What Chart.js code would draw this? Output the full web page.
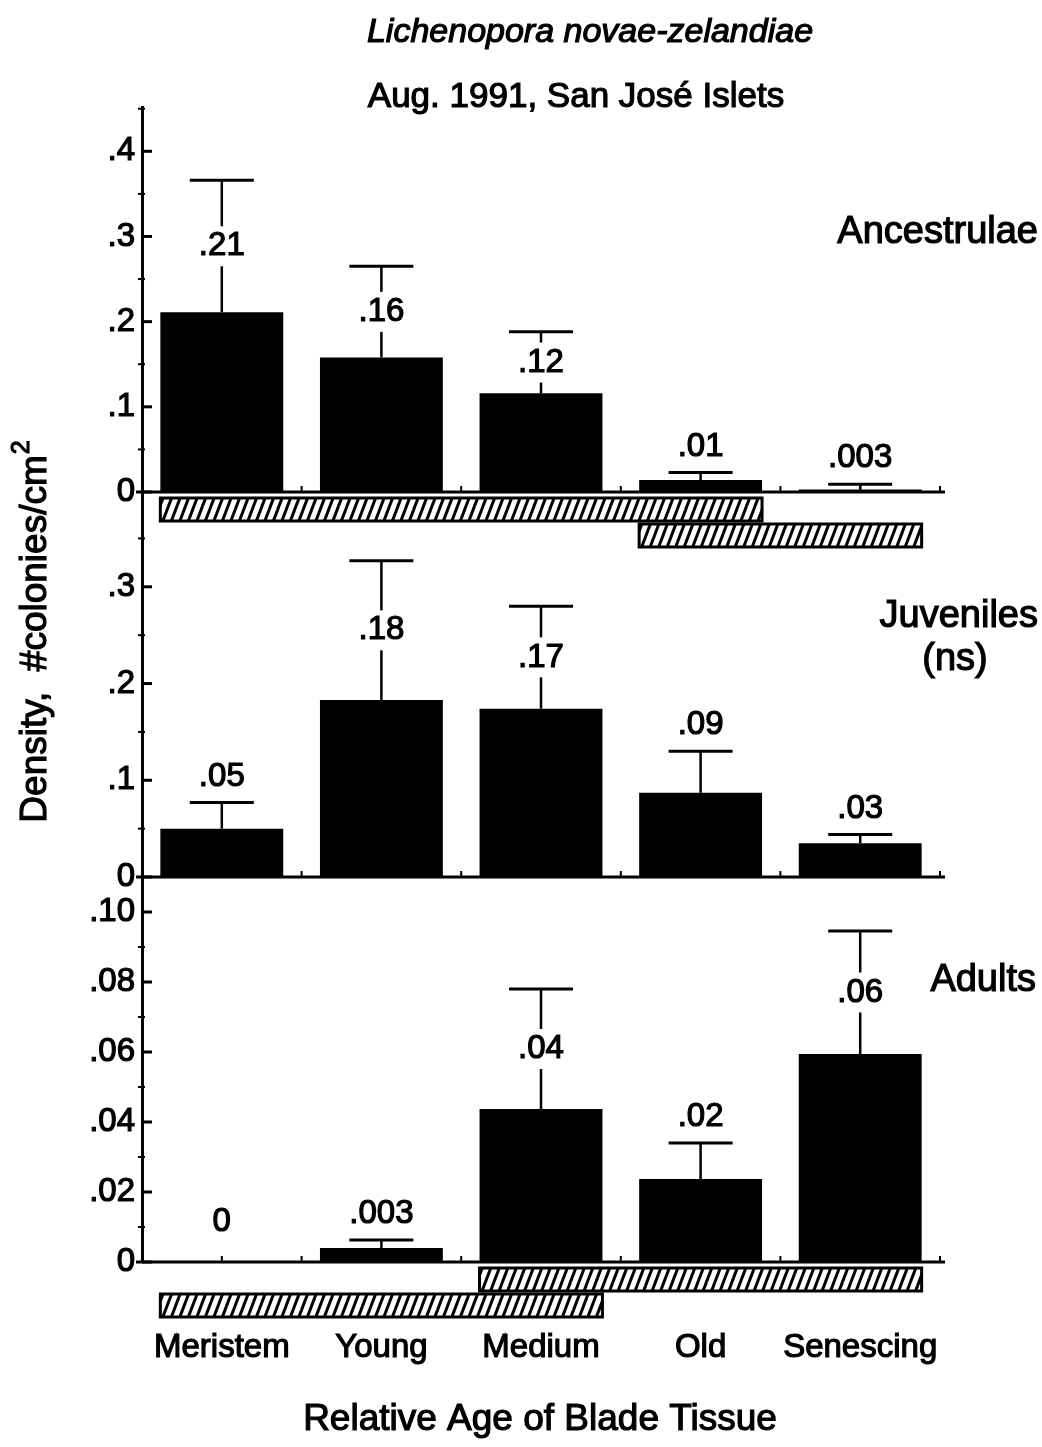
<!DOCTYPE html>
<html>
<head>
<meta charset="utf-8">
<script src="https://cdn.jsdelivr.net/npm/chart.js@4.4.0/dist/chart.umd.min.js"></script>
<style>
  body { margin: 0; background: #fff; }
  #wrap { width: 1042px; height: 1447px; position: relative; }
</style>
</head>
<body>
<div id="wrap"><canvas id="canvas"></canvas></div>
<script>
// categories
var tissue = ['Meristem', 'Young', 'Medium', 'Old', 'Senescing'];

// Ancestrulae: means, tops of the error bars, printed values
var ancMean = [0.211, 0.158, 0.116, 0.014, 0.003];
var ancTop  = [0.366, 0.265, 0.188, 0.023, 0.009];
var ancText = ['.21', '.16', '.12', '.01', '.003'];

// Juveniles
var juvMean = [0.050, 0.183, 0.174, 0.087, 0.035];
var juvTop  = [0.077, 0.327, 0.280, 0.130, 0.044];
var juvText = ['.05', '.18', '.17', '.09', '.03'];

// Adults
var adMean = [0, 0.0040, 0.0437, 0.0237, 0.0594];
var adTop  = [0, 0.0063, 0.0780, 0.0340, 0.0946];
var adText = ['0', '.003', '.04', '.02', '.06'];

// tick labels
var ancTicks = [0, 0.1, 0.2, 0.3, 0.4];
var ancTickText = ['0', '.1', '.2', '.3', '.4'];
var juvTicks = [0, 0.1, 0.2, 0.3];
var juvTickText = ['0', '.1', '.2', '.3'];
var adTicks = [0, 0.02, 0.04, 0.06, 0.08, 0.10];
var adTickText = ['0', '.02', '.04', '.06', '.08', '.10'];

// homogeneous groups (first, last category) drawn as hatched bars
var ancGroups = [[0, 3], [3, 4]];
var adGroups = [[2, 4], [0, 2]];

var FONT = '"Liberation Sans", Arial, Helvetica, sans-serif';

var panels = [
  { id: 'y1', mean: ancMean, top: ancTop, text: ancText, ticks: ancTicks, tickText: ancTickText, minor: 0.05, groups: ancGroups },
  { id: 'y2', mean: juvMean, top: juvTop, text: juvText, ticks: juvTicks, tickText: juvTickText, minor: 0.05, groups: [] },
  { id: 'y3', mean: adMean, top: adTop, text: adText, ticks: adTicks, tickText: adTickText, minor: 0.01, groups: adGroups }
];

function yScale(p, max) {
  return {
    type: 'linear',
    position: 'left',
    stack: 'panels',
    stackWeight: 1,
    min: 0,
    max: max,
    grid: { display: false, drawTicks: false },
    border: { display: true, color: '#000', width: 3 },
    afterBuildTicks: function(s) {
      s.ticks = p.ticks.map(function(v) { return { value: v }; });
    },
    afterFit: function(s) { s.width = 142; },
    ticks: {
      padding: 7,
      color: '#000',
      textStrokeColor: '#000',
      textStrokeWidth: 1.2,
      font: { family: FONT, size: 33 },
      callback: function(v, i) { return p.tickText[i]; }
    }
  };
}

function hatchBar(ctx, x0, x1, y0, y1) {
  ctx.save();
  ctx.fillStyle = '#fff';
  ctx.fillRect(x0, y0, x1 - x0, y1 - y0);
  ctx.beginPath();
  ctx.rect(x0, y0, x1 - x0, y1 - y0);
  ctx.clip();
  ctx.strokeStyle = '#000';
  ctx.lineWidth = 3;
  var h = y1 - y0;
  for (var x = x0 - h; x < x1 + h; x += 8.5) {
    ctx.beginPath();
    ctx.moveTo(x, y1);
    ctx.lineTo(x + h * 0.38, y0);
    ctx.stroke();
  }
  ctx.restore();
  ctx.strokeStyle = '#000';
  ctx.lineWidth = 3;
  ctx.strokeRect(x0, y0, x1 - x0, y1 - y0);
}

// text with a thin outline so it reads as heavy as the scanned original
function txt(ctx, s, x, y) {
  ctx.lineWidth = 1.2;
  ctx.strokeText(s, x, y);
  ctx.fillText(s, x, y);
}

var extras = {
  id: 'extras',
  afterDatasetsDraw: function(chart) {
    var ctx = chart.ctx;
    var area = chart.chartArea;
    var xs = chart.scales.x;
    ctx.save();
    ctx.strokeStyle = '#000';
    ctx.fillStyle = '#000';

    panels.forEach(function(p, pi) {
      var ys = chart.scales[p.id];
      var zero = ys.getPixelForValue(0);

      // zero line
      ctx.lineWidth = 3;
      ctx.beginPath();
      ctx.moveTo(area.left - 6, zero);
      ctx.lineTo(area.right + 5, zero);
      ctx.stroke();

      // small ticks on the zero line
      ctx.lineWidth = 2;
      for (var k = 0; k <= tissue.length * 2; k++) {
        var tx = xs.getPixelForValue(k / 2 - 0.5);
        ctx.beginPath();
        ctx.moveTo(tx, zero);
        ctx.lineTo(tx, zero - 6);
        ctx.stroke();
      }

      // y ticks: major inward, minor small
      var ax = area.left;
      ctx.lineWidth = 3;
      p.ticks.forEach(function(v) {
        var ty = ys.getPixelForValue(v);
        ctx.beginPath();
        ctx.moveTo(ax, ty);
        ctx.lineTo(ax + 10, ty);
        ctx.stroke();
      });
      ctx.lineWidth = 2;
      for (var m = p.minor; m < ys.max; m += p.minor * 2) {
        var my = ys.getPixelForValue(m);
        ctx.beginPath();
        ctx.moveTo(ax - 4, my);
        ctx.lineTo(ax + 3, my);
        ctx.stroke();
      }

      // error bars and value labels
      var meta = chart.getDatasetMeta(pi);
      ctx.font = '33px ' + FONT;
      ctx.textAlign = 'center';
      ctx.textBaseline = 'middle';
      meta.data.forEach(function(bar, i) {
        var x = bar.x;
        var yBar = ys.getPixelForValue(p.mean[i]);
        var yTop = ys.getPixelForValue(p.top[i]);
        var hasErr = p.top[i] > p.mean[i];
        if (hasErr) {
          ctx.lineWidth = 2.5;
          ctx.beginPath();
          ctx.moveTo(x, yBar);
          ctx.lineTo(x, yTop);
          ctx.stroke();
          ctx.lineWidth = 3;
          ctx.beginPath();
          ctx.moveTo(x - 32, yTop);
          ctx.lineTo(x + 32, yTop);
          ctx.stroke();
        }
        var ly;
        if (!hasErr) {
          ly = yBar - 40;
        } else if (yBar - yTop > 50) {
          ly = (yBar + yTop) / 2;
          var w = ctx.measureText(p.text[i]).width;
          ctx.fillStyle = '#fff';
          ctx.fillRect(x - w / 2 - 3, ly - 20, w + 6, 40);
          ctx.fillStyle = '#000';
        } else {
          ly = yTop - 26;
        }
        txt(ctx, p.text[i], x, ly);
      });

      // hatched group bars below the zero line
      var half = meta.data[0].width / 2;
      p.groups.forEach(function(g, gi) {
        var x0 = xs.getPixelForValue(g[0]) - half;
        var x1 = xs.getPixelForValue(g[1]) + half;
        var y0 = zero + 6 + gi * 26;
        hatchBar(ctx, x0, x1, y0, y0 + 23);
      });
    });
    ctx.restore();
  },
  afterDraw: function(chart) {
    var ctx = chart.ctx;
    ctx.save();
    ctx.fillStyle = '#000';
    ctx.strokeStyle = '#000';
    ctx.textAlign = 'center';
    ctx.textBaseline = 'middle';
    ctx.font = 'italic 34px ' + FONT;
    txt(ctx, 'Lichenopora novae-zelandiae', 590, 33);
    ctx.font = '35px ' + FONT;
    txt(ctx, 'Aug. 1991, San José Islets', 576, 97);

    ctx.font = '38px ' + FONT;
    ctx.textAlign = 'right';
    txt(ctx, 'Ancestrulae', 1038, 233);
    txt(ctx, 'Juveniles', 1038, 617);
    txt(ctx, 'Adults', 1036, 981);
    ctx.textAlign = 'center';
    txt(ctx, '(ns)', 955, 660);

    ctx.font = '37px ' + FONT;
    txt(ctx, 'Relative Age of Blade Tissue', 540, 1420);

    // y axis title, rotated
    ctx.translate(36, 632);
    ctx.rotate(-Math.PI / 2);
    var t1 = 'Density,  #colonies/cm';
    var w1 = ctx.measureText(t1).width;
    ctx.font = '25px ' + FONT;
    var w2 = ctx.measureText('2').width;
    ctx.font = '37px ' + FONT;
    ctx.textAlign = 'left';
    var sx = -(w1 + w2) / 2;
    txt(ctx, t1, sx, 0);
    ctx.font = '25px ' + FONT;
    txt(ctx, '2', sx + w1 + 1, -14);
    ctx.restore();
  }
};

var ctx = document.getElementById('canvas').getContext('2d');
var myChart = new Chart(ctx, {
  type: 'bar',
  data: {
    labels: tissue,
    datasets: [
      { label: 'Ancestrulae', data: ancMean, yAxisID: 'y1', backgroundColor: '#000' },
      { label: 'Juveniles', data: juvMean, yAxisID: 'y2', backgroundColor: '#000' },
      { label: 'Adults', data: adMean, yAxisID: 'y3', backgroundColor: '#000' }
    ]
  },
  options: {
    responsive: true,
    maintainAspectRatio: false,
    animation: false,
    layout: { padding: { top: 107, right: 102, left: 0, bottom: 0 } },
    datasets: {
      bar: {
        grouped: false,
        borderWidth: 0,
        barPercentage: 0.77,
        categoryPercentage: 1
      }
    },
    plugins: {
      legend: { display: false },
      tooltip: { enabled: false }
    },
    scales: {
      x: {
        type: 'category',
        grid: { display: false, drawTicks: false },
        border: { display: false },
        afterFit: function(s) { s.height = 185; },
        ticks: {
          padding: 66,
          color: '#000',
          textStrokeColor: '#000',
          textStrokeWidth: 1.2,
          maxRotation: 0,
          font: { family: FONT, size: 33 }
        }
      },
      // stacked axes are laid out bottom-up, so the lowest panel comes first
      y3: yScale(panels[2], 0.11),
      y2: yScale(panels[1], 0.398),
      y1: yScale(panels[0], 0.452)
    }
  },
  plugins: [extras]
});
</script>
</body>
</html>
